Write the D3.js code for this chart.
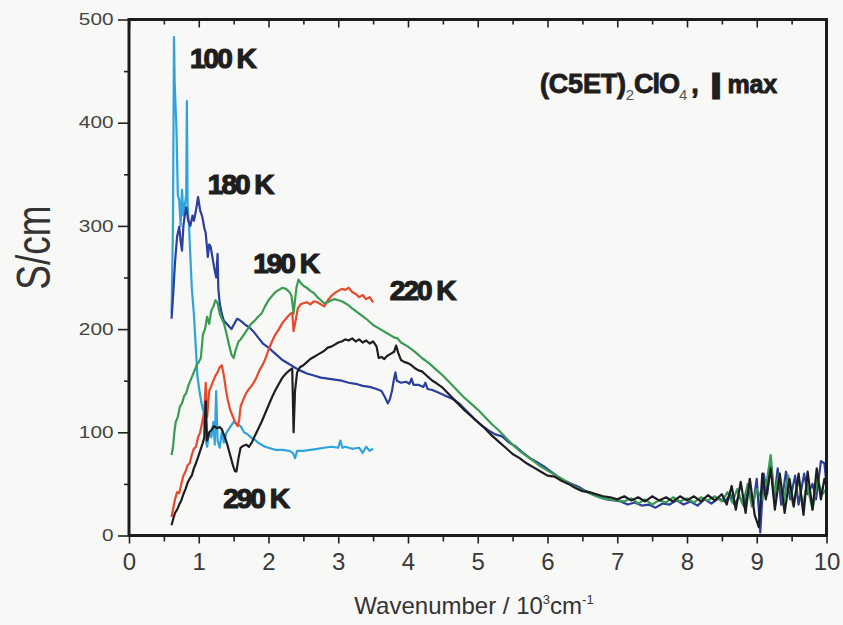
<!DOCTYPE html>
<html>
<head>
<meta charset="utf-8">
<script src="https://cdn.jsdelivr.net/npm/d3@7"></script>
<style>
  html, body { margin: 0; padding: 0; background: #f8f8f6; }
  svg { display: block; }
</style>
</head>
<body>
<svg id="chart" width="843" height="625"></svg>
<script>
// Optical conductivity spectra (S/cm) vs wavenumber (10^3 cm^-1) at five temperatures
const xTicks = [0, 1, 2, 3, 4, 5, 6, 7, 8, 9, 10];
const yTicks = [0, 100, 200, 300, 400, 500];

const temperatures = ["100 K", "180 K", "190 K", "220 K", "290 K"];

const k100 = [[0.61,215],[0.63,300],[0.645,483],[0.655,440],[0.665,420],[0.68,395],[0.70,330],[0.72,325],[0.74,300],[0.76,335],[0.78,310],[0.80,320],[0.82,330],[0.83,421],[0.84,320],[0.86,300],[0.88,270],[0.90,240],[0.93,215],[0.96,180],[0.98,155],[1.01,140],[1.04,128],[1.07,120],[1.09,95],[1.12,86],[1.15,100],[1.18,95],[1.21,110],[1.23,88],[1.25,140],[1.27,92],[1.30,85],[1.33,100],[1.36,90],[1.40,100],[1.45,105],[1.50,110],[1.55,108],[1.60,106],[1.65,100],[1.70,98],[1.75,95],[1.80,93],[1.85,90],[1.90,88],[1.95,86],[2.0,85],[2.1,83],[2.2,83],[2.3,82],[2.35,80],[2.38,75],[2.41,82],[2.5,82],[2.6,83],[2.7,84],[2.8,85],[2.9,86],[3.0,85],[3.03,92],[3.06,85],[3.1,86],[3.2,84],[3.3,85],[3.35,80],[3.4,86],[3.45,82],[3.5,84]];

const k180 = [[0.61,210],[0.63,230],[0.66,265],[0.69,290],[0.72,299],[0.74,285],[0.76,276],[0.78,300],[0.80,310],[0.82,318],[0.85,305],[0.88,300],[0.91,310],[0.93,305],[0.96,315],[0.99,328],[1.02,315],[1.05,309],[1.08,298],[1.10,293],[1.13,270],[1.15,282],[1.17,280],[1.20,268],[1.22,260],[1.25,250],[1.27,273],[1.28,240],[1.30,225],[1.33,215],[1.36,208],[1.39,206],[1.43,203],[1.47,200],[1.50,204],[1.55,210],[1.58,209],[1.62,207],[1.67,204],[1.72,202],[1.78,198],[1.85,192],[1.92,186],[2.0,182],[2.1,176],[2.2,170],[2.3,166],[2.37,163],[2.45,160],[2.55,157],[2.65,155],[2.75,153],[2.85,152],[2.95,151],[3.05,150],[3.15,148],[3.25,147],[3.35,145],[3.45,144],[3.55,142],[3.62,140],[3.67,134],[3.71,128],[3.74,132],[3.77,140],[3.80,152],[3.82,158],[3.84,150],[3.9,148],[3.97,149],[4.02,147],[4.05,152],[4.08,146],[4.15,146],[4.22,144],[4.25,148],[4.28,142],[4.35,141],[4.45,138],[4.55,135],[4.65,132],[4.75,127],[4.85,120],[4.95,113],[5.05,107],[5.15,102],[5.25,98],[5.35,96],[5.45,90],[5.55,86],[5.65,80],[5.75,75],[5.85,71],[5.95,67],[6.05,62],[6.15,57],[6.25,53],[6.35,50],[6.45,47],[6.55,43],[6.65,40],[6.75,37],[6.85,35],[6.95,34],[7.05,33],[7.15,30],[7.25,32],[7.35,29],[7.45,30],[7.55,27],[7.65,31],[7.75,30],[7.85,34],[7.95,30],[8.05,33],[8.15,29],[8.25,35],[8.35,31],[8.45,36],[8.55,33],[8.62,40],[8.68,30],[8.75,38],[8.82,28],[8.88,45],[8.95,30],[9.0,55],[9.05,3],[9.1,60],[9.15,40],[9.2,70],[9.25,35],[9.3,65],[9.35,30],[9.42,62],[9.48,35],[9.55,58],[9.6,30],[9.68,60],[9.73,40],[9.8,50],[9.85,35],[9.92,72],[9.97,70],[10,50]];

const k190 = [[0.61,78],[0.63,85],[0.65,100],[0.67,110],[0.70,115],[0.73,125],[0.76,128],[0.79,135],[0.82,138],[0.85,145],[0.88,150],[0.91,155],[0.94,160],[0.97,165],[1.0,168],[1.03,172],[1.06,195],[1.09,200],[1.12,212],[1.15,205],[1.18,218],[1.21,222],[1.24,228],[1.27,225],[1.30,215],[1.33,210],[1.36,206],[1.40,195],[1.44,183],[1.47,175],[1.50,172],[1.53,180],[1.57,188],[1.60,190],[1.65,195],[1.70,200],[1.75,205],[1.80,208],[1.85,212],[1.90,215],[1.95,222],[2.0,228],[2.05,232],[2.1,236],[2.15,238],[2.2,240],[2.25,239],[2.3,236],[2.33,232],[2.36,215],[2.38,228],[2.40,240],[2.43,248],[2.46,245],[2.5,242],[2.55,240],[2.6,237],[2.65,235],[2.7,231],[2.75,228],[2.8,225],[2.85,226],[2.9,228],[2.95,229],[3.0,228],[3.05,227],[3.1,225],[3.15,223],[3.2,220],[3.3,215],[3.4,210],[3.5,204],[3.6,200],[3.7,196],[3.8,192],[3.85,191],[3.9,187],[4.0,183],[4.1,178],[4.2,172],[4.3,167],[4.4,161],[4.5,155],[4.6,148],[4.7,141],[4.8,134],[4.9,128],[5.0,122],[5.1,115],[5.2,108],[5.3,102],[5.4,95],[5.5,88],[5.6,82],[5.7,77],[5.8,72],[5.9,67],[6.0,63],[6.1,59],[6.2,55],[6.3,51],[6.4,47],[6.5,44],[6.6,41],[6.7,38],[6.8,36],[6.9,35],[7.0,34],[7.1,33],[7.2,36],[7.3,31],[7.4,35],[7.5,30],[7.6,34],[7.7,32],[7.8,37],[7.9,33],[8.0,36],[8.1,32],[8.2,37],[8.3,34],[8.4,38],[8.5,33],[8.58,42],[8.65,32],[8.72,45],[8.8,30],[8.87,50],[8.93,28],[9.0,45],[9.08,35],[9.15,55],[9.2,78],[9.25,40],[9.32,60],[9.38,30],[9.45,58],[9.52,30],[9.6,55],[9.66,28],[9.72,50],[9.8,25],[9.87,55],[9.94,40],[10,45]];

const k220 = [[0.61,18],[0.63,25],[0.66,35],[0.69,42],[0.72,41],[0.75,50],[0.78,58],[0.81,62],[0.84,68],[0.87,70],[0.90,78],[0.93,84],[0.96,86],[0.99,95],[1.02,100],[1.05,110],[1.08,120],[1.10,148],[1.12,115],[1.15,140],[1.18,145],[1.21,150],[1.24,155],[1.27,158],[1.30,163],[1.33,165],[1.36,155],[1.39,141],[1.42,130],[1.45,122],[1.49,115],[1.52,110],[1.56,106],[1.58,112],[1.60,125],[1.64,132],[1.68,138],[1.72,142],[1.77,146],[1.82,152],[1.87,160],[1.92,166],[1.96,172],[2.0,180],[2.05,188],[2.1,195],[2.15,200],[2.2,206],[2.25,210],[2.3,214],[2.34,216],[2.36,198],[2.38,205],[2.42,220],[2.46,224],[2.5,225],[2.55,226],[2.6,224],[2.65,227],[2.7,226],[2.75,224],[2.8,222],[2.85,228],[2.9,232],[2.95,235],[3.0,237],[3.05,239],[3.1,238],[3.15,240],[3.2,236],[3.25,234],[3.3,231],[3.35,233],[3.4,229],[3.45,231],[3.5,226]];

const k290 = [[0.61,10],[0.63,15],[0.66,22],[0.69,25],[0.72,30],[0.75,34],[0.78,40],[0.81,45],[0.84,51],[0.87,55],[0.90,58],[0.93,65],[0.96,70],[0.99,76],[1.02,82],[1.05,88],[1.08,95],[1.10,130],[1.12,92],[1.15,100],[1.18,102],[1.22,106],[1.26,104],[1.30,105],[1.33,103],[1.37,96],[1.41,88],[1.45,78],[1.49,68],[1.52,62],[1.54,62],[1.57,75],[1.60,85],[1.64,87],[1.68,88],[1.72,86],[1.76,90],[1.80,96],[1.85,103],[1.90,110],[1.95,118],[2.0,126],[2.05,134],[2.1,141],[2.15,147],[2.2,153],[2.25,157],[2.3,160],[2.34,162],[2.36,100],[2.38,140],[2.41,158],[2.45,163],[2.5,165],[2.55,168],[2.6,171],[2.65,173],[2.7,175],[2.75,177],[2.8,179],[2.85,182],[2.9,183],[2.95,185],[3.0,187],[3.05,188],[3.1,190],[3.15,189],[3.2,191],[3.25,188],[3.3,190],[3.35,187],[3.4,189],[3.45,186],[3.5,188],[3.55,183],[3.58,172],[3.62,173],[3.66,171],[3.7,174],[3.75,176],[3.8,178],[3.83,184],[3.86,177],[3.9,170],[3.95,168],[4.0,167],[4.05,165],[4.1,162],[4.15,160],[4.2,159],[4.25,156],[4.3,153],[4.35,150],[4.4,148],[4.5,143],[4.6,136],[4.7,129],[4.8,122],[4.9,116],[5.0,110],[5.1,104],[5.2,97],[5.3,91],[5.4,85],[5.5,79],[5.6,75],[5.7,70],[5.8,66],[5.9,62],[6.0,58],[6.1,57],[6.2,53],[6.3,50],[6.4,46],[6.5,43],[6.6,42],[6.7,40],[6.8,38],[6.9,37],[7.0,35],[7.1,38],[7.2,34],[7.3,37],[7.4,33],[7.5,38],[7.6,34],[7.7,37],[7.8,33],[7.9,38],[8.0,34],[8.1,38],[8.2,33],[8.3,39],[8.4,34],[8.5,40],[8.57,30],[8.64,48],[8.7,25],[8.77,52],[8.84,22],[8.9,55],[8.97,20],[9.03,8],[9.08,60],[9.13,35],[9.2,65],[9.26,25],[9.33,60],[9.4,22],[9.47,55],[9.53,28],[9.6,60],[9.67,20],[9.73,62],[9.8,25],[9.86,65],[9.92,35],[9.97,55],[10,48]];

// drawing order: cooler spectra underneath, 290 K on top
const series = [
  { name: "100 K", data: k100, color: "#2fa4dc" },
  { name: "180 K", data: k180, color: "#2c3f9e" },
  { name: "220 K", data: k220, color: "#e8482c" },
  { name: "190 K", data: k190, color: "#3a9c52" },
  { name: "290 K", data: k290, color: "#1d1d24" }
];

// temperature labels anchored in data units next to their curves
const labelPos = [
  { text: temperatures[0], x: 0.875, y: 453 },
  { text: temperatures[1], x: 1.13, y: 331 },
  { text: temperatures[2], x: 1.78, y: 254 },
  { text: temperatures[3], x: 3.74, y: 228 },
  { text: temperatures[4], x: 1.35, y: 27 }
];

const svg = d3.select("#chart");
const plotLeft = 129, plotRight = 826.5, plotTop = 19.5, plotBottom = 535.5;

const x = d3.scaleLinear().domain([0, 10]).range([plotLeft, plotRight]);
const y = d3.scaleLinear().domain([0, 500]).range([plotBottom, plotTop]);

const baseFont = "'Liberation Sans', Arial, sans-serif";

// curves
const line = d3.line().x(d => x(d[0])).y(d => y(d[1])).curve(d3.curveLinear);
svg.append("g").selectAll("path").data(series).join("path")
  .attr("d", d => line(d.data))
  .attr("fill", "none")
  .attr("stroke", d => d.color)
  .attr("stroke-width", 2.2)
  .attr("stroke-linejoin", "round");

// bottom axis: major + minor ticks pointing outward
const gx = svg.append("g").attr("transform", `translate(0,${plotBottom})`)
  .call(d3.axisBottom(x).tickValues(xTicks).tickSize(8).tickSizeOuter(0).tickPadding(9).tickFormat(d3.format("d")));
gx.selectAll("text").attr("font-family", baseFont).attr("font-size", 24).attr("fill", "#383838");
svg.append("g").attr("transform", `translate(0,${plotBottom})`)
  .call(d3.axisBottom(x).tickValues(d3.range(0.5, 10, 1)).tickSize(6).tickSizeOuter(0).tickFormat(""));

// top axis: inward ticks
svg.append("g").attr("transform", `translate(0,${plotTop})`)
  .call(d3.axisTop(x).tickValues(xTicks).tickSize(-8).tickSizeOuter(0).tickFormat(""));
svg.append("g").attr("transform", `translate(0,${plotTop})`)
  .call(d3.axisTop(x).tickValues(d3.range(0.5, 10, 1)).tickSize(-5).tickSizeOuter(0).tickFormat(""));

// left axis: labels set in a horizontally widened face
const yStretch = 1.3;
const gy = svg.append("g").attr("transform", `translate(${plotLeft},0)`)
  .call(d3.axisLeft(y).tickValues(yTicks).tickSize(11).tickSizeOuter(0));
gy.selectAll("text")
  .attr("font-family", baseFont).attr("font-size", 16).attr("fill", "#444")
  .attr("x", -15.5 / yStretch)
  .attr("transform", `scale(${yStretch},1)`);
svg.append("g").attr("transform", `translate(${plotLeft},0)`)
  .call(d3.axisLeft(y).tickValues(d3.range(50, 500, 100)).tickSize(5).tickSizeOuter(0).tickFormat(""));

svg.selectAll(".domain").remove();
svg.selectAll(".tick line").attr("stroke", "#222").attr("stroke-width", 1.6);

// plot frame
svg.append("rect")
  .attr("x", plotLeft).attr("y", plotTop)
  .attr("width", plotRight - plotLeft).attr("height", plotBottom - plotTop)
  .attr("fill", "none").attr("stroke", "#1c1c1c").attr("stroke-width", 3);

// axis titles
svg.append("text")
  .attr("transform", `translate(50,${(plotTop + plotBottom) / 2 - 30}) scale(1.3,1) rotate(-90)`)
  .attr("text-anchor", "middle")
  .attr("font-family", baseFont)
  .attr("font-size", 37).attr("fill", "#333")
  .text("S/cm");

const xt = svg.append("text")
  .attr("x", 474).attr("y", 614)
  .attr("text-anchor", "middle")
  .attr("font-family", baseFont)
  .attr("font-size", 24).attr("fill", "#333");
xt.append("tspan").text("Wavenumber / 10");
xt.append("tspan").attr("font-size", 13).attr("dy", -10).text("3");
xt.append("tspan").attr("dy", 10).text("cm");
xt.append("tspan").attr("font-size", 13).attr("dy", -10).text("-1");

// temperature labels
svg.append("g").selectAll("text").data(labelPos).join("text")
  .attr("x", d => x(d.x)).attr("y", d => y(d.y))
  .attr("font-family", baseFont).attr("font-weight", "bold")
  .attr("font-size", 28).attr("letter-spacing", -2)
  .attr("fill", "#1e1e1e").attr("stroke", "#1e1e1e").attr("stroke-width", 1.2)
  .text(d => d.text);

// compound title
const tt = svg.append("text")
  .attr("x", 540).attr("y", 93)
  .attr("font-family", baseFont).attr("font-weight", "bold")
  .attr("font-size", 27).attr("letter-spacing", -0.2)
  .attr("fill", "#1e1e1e").attr("stroke", "#1e1e1e").attr("stroke-width", 0.9);
tt.append("tspan").text("(C5ET)");
tt.append("tspan").attr("font-size", 15).attr("font-weight", "normal").attr("stroke-width", 0).attr("fill", "#555").attr("dy", 7).text("2");
tt.append("tspan").attr("dy", -7).attr("letter-spacing", -1).text("ClO");
tt.append("tspan").attr("font-size", 15).attr("font-weight", "normal").attr("stroke-width", 0).attr("fill", "#555").attr("dy", 7).text("4");
tt.append("tspan").attr("dy", -7).attr("dx", 4).text(",");
tt.append("tspan").attr("dx", 12).attr("letter-spacing", -4).text("||");
tt.append("tspan").attr("dx", 10).attr("font-size", 25).text("max");
</script>
</body>
</html>
